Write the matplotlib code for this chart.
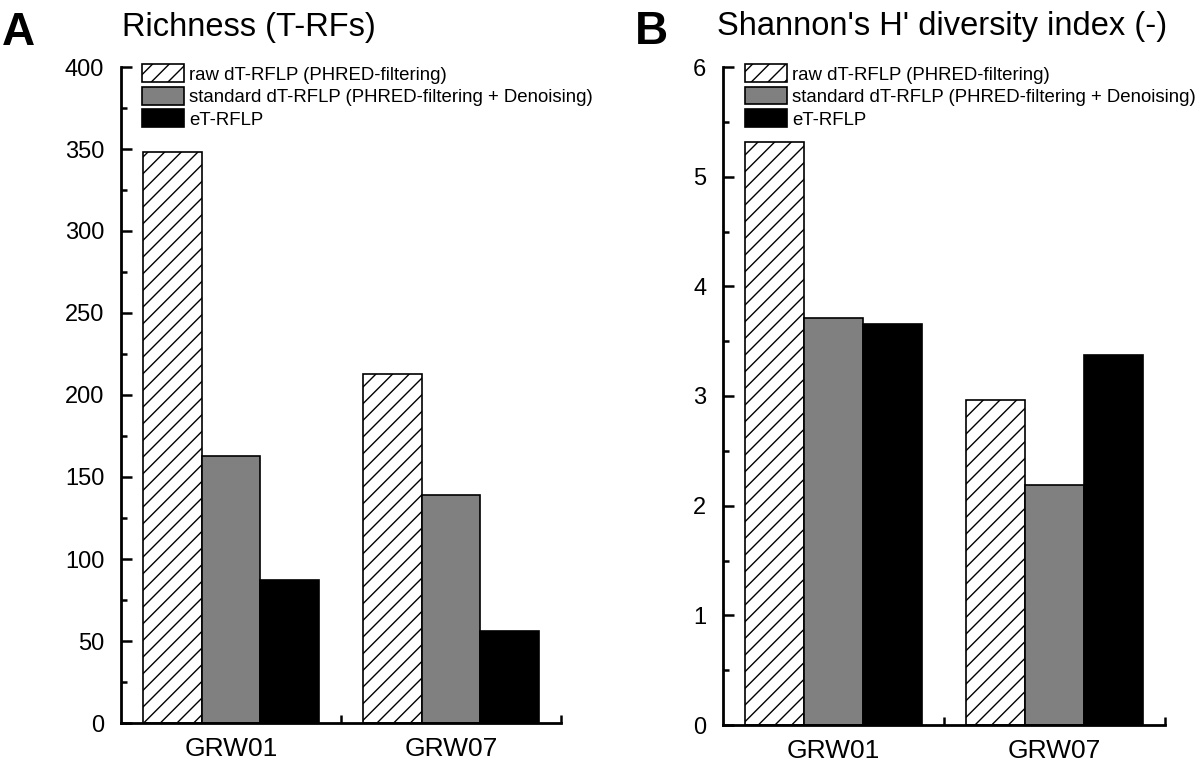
import matplotlib
matplotlib.use("Agg")
import matplotlib.pyplot as plt
from matplotlib.ticker import MultipleLocator, FixedLocator
import numpy as np

plt.rcParams['font.family'] = ['Liberation Sans', 'DejaVu Sans']
plt.rcParams['hatch.linewidth'] = 1.0

samples = ["GRW01", "GRW07"]
series_names = ["raw dT-RFLP (PHRED-filtering)",
                "standard dT-RFLP (PHRED-filtering + Denoising)",
                "eT-RFLP"]
richness_raw = [348, 213]
richness_standard = [163, 139]
richness_et = [87, 56]
shannon_raw = [5.32, 2.96]
shannon_standard = [3.71, 2.19]
shannon_et = [3.655, 3.37]

panel_titles = ["Richness (T-RFs)", "Shannon's H' diversity index (-)"]
panel_letters = ["A", "B"]

fig = plt.figure(figsize=(12, 7.67), dpi=100)
axA = fig.add_axes([121 / 1200, 1 - 723 / 767, 440 / 1200, 656 / 767])
axB = fig.add_axes([723 / 1200, 1 - 725 / 767, 442 / 1200, 658 / 767])

styles = [dict(facecolor='white', hatch='//'),
          dict(facecolor='#808080'),
          dict(facecolor='black')]

def draw(ax, data, ymax, major, minor, legx):
    x = np.arange(len(samples)) + 0.5
    w = 0.268
    for i, (vals, st) in enumerate(zip(data, styles)):
        ax.bar(x + (i - 1) * w, vals, width=w, edgecolor='black',
               linewidth=1.2, label=series_names[i], **st)
    ax.set_xlim(0, len(samples))
    ax.set_ylim(0, ymax)
    for s in ['top', 'right']:
        ax.spines[s].set_visible(False)
    for s in ['left', 'bottom']:
        ax.spines[s].set_linewidth(2)
    ax.yaxis.set_major_locator(MultipleLocator(major))
    ax.yaxis.set_minor_locator(MultipleLocator(minor))
    ax.tick_params(axis='y', which='major', direction='in', length=8,
                   width=1.8, labelsize=17, pad=12)
    ax.tick_params(axis='y', which='minor', direction='in', length=4,
                   width=1.8)
    ax.xaxis.set_major_locator(FixedLocator(np.arange(1, len(samples) + 1)))
    ax.xaxis.set_minor_locator(FixedLocator(x))
    ax.set_xticklabels([], minor=False)
    ax.set_xticklabels(samples, minor=True)
    ax.tick_params(axis='x', which='major', direction='in', length=6,
                   width=1.8)
    ax.tick_params(axis='x', which='minor', length=0, labelsize=19, pad=10)
    ax.legend(loc='upper left', bbox_to_anchor=(legx, 1.004), frameon=False,
              fontsize=13.4, handlelength=2.25, handleheight=1.08,
              labelspacing=0.18, handletextpad=0.27, borderpad=0,
              borderaxespad=0)

draw(axA, [richness_raw, richness_standard, richness_et], 400, 50, 25, 0.048)
draw(axB, [shannon_raw, shannon_standard, shannon_et], 6, 1, 0.5, 0.05)

fig.text(2 / 1200, 1 - 45 / 767, panel_letters[0], fontsize=33,
         fontweight='bold', ha='left', va='baseline')
fig.text(122 / 1200, 1 - 36 / 767, panel_titles[0], fontsize=23.5,
         ha='left', va='baseline')
fig.text(635 / 1200, 1 - 44 / 767, panel_letters[1], fontsize=33,
         fontweight='bold', ha='left', va='baseline')
fig.text(717 / 1200, 1 - 35 / 767, panel_titles[1], fontsize=23.5,
         ha='left', va='baseline')

fig.savefig("out.png", dpi=100)
